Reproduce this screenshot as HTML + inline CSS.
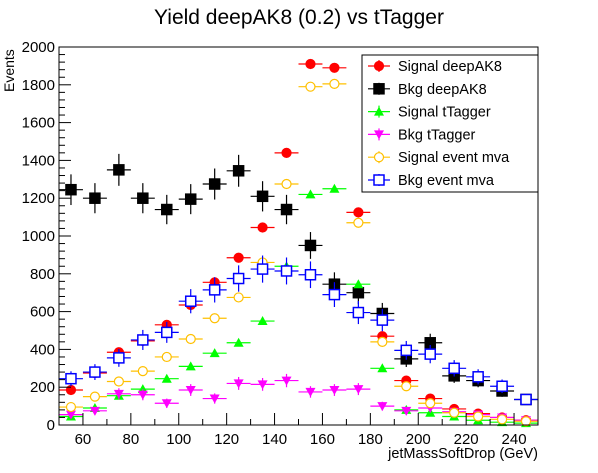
<!DOCTYPE html>
<html><head><meta charset="utf-8"><style>
body{margin:0;background:#fff}
svg{display:block;font-family:"Liberation Sans",sans-serif}
</style></head><body>
<svg id="c" width="598" height="473" xmlns="http://www.w3.org/2000/svg">
<text x="299" y="24" font-size="21" text-anchor="middle">Yield deepAK8 (0.2) vs tTagger</text>
<g id="marks"></g>
<rect x="59" y="47" width="479" height="378" fill="none" stroke="#000" stroke-width="1"/>
<g id="axes"></g>
<text x="538" y="458" font-size="14.5" text-anchor="end">jetMassSoftDrop (GeV)</text>
<text transform="translate(14,92) rotate(-90)" font-size="14" text-anchor="start">Events</text>
<g id="legend"></g>
</svg>
<script>
const binCenters=[55,65,75,85,95,105,115,125,135,145,155,165,175,185,195,205,215,225,235,245];
const sigDeep=[185,275,385,445,530,635,755,885,1045,1440,1910,1890,1125,470,235,140,85,60,40,25];
const bkgDeep=[1245,1200,1350,1200,1140,1195,1275,1345,1210,1140,950,745,700,590,350,435,260,235,180,135];
const sigTT=[45,90,155,190,245,310,380,435,550,840,1220,1250,745,300,80,65,45,25,15,10];
const bkgTT=[55,75,165,160,115,185,140,220,215,235,175,185,190,100,75,90,70,55,40,25];
const sigMva=[95,150,230,285,360,455,565,675,860,1275,1790,1805,1070,440,205,115,65,45,30,20];
const bkgMva=[245,280,355,450,490,655,715,775,825,815,795,690,595,555,395,375,300,255,205,135];
const xTicks=[60,80,100,120,140,160,180,200,220,240];
const yTicks=[0,200,400,600,800,1000,1200,1400,1600,1800,2000];
const NS="http://www.w3.org/2000/svg";
const X=v=>59+(v-50)*479/200;
const Y=v=>425-v*378/2000;
function el(t,a,p){const e=document.createElementNS(NS,t);for(const k in a)e.setAttribute(k,a[k]);p.appendChild(e);return e;}
const axes=document.getElementById('axes');
for(let v=50;v<=250;v+=2){const big=v%20===0,mid=v%10===0;if(!mid&&v%2)continue;
 const l=big?12:(mid?6:0);if(!l)continue;
 const t=el('line',{x1:X(v),x2:X(v),y1:425,y2:425-l,stroke:'#000'},axes);
 }
xTicks.forEach(v=>{const t=el('text',{x:X(v),y:444,'font-size':15,'text-anchor':'middle'},axes);t.textContent=v;
 });
for(let v=0;v<=2000;v+=40){const l=v%200===0?12:6;
 const t=el('line',{x1:59,x2:59+l,y1:Y(v),y2:Y(v),stroke:'#000'},axes);
 }
yTicks.forEach(v=>{const t=el('text',{x:55,y:Y(v)+5,'font-size':15,'text-anchor':'end'},axes);t.textContent=v;
 });
const series=[
 {name:'signal-deepak8',data:sigDeep,col:'#ff0000',m:'circle',fill:true,ef:0.4,label:'Signal deepAK8'},
 {name:'bkg-deepak8',data:bkgDeep,col:'#000000',m:'square',fill:true,ef:2.3,label:'Bkg deepAK8'},
 {name:'signal-ttagger',data:sigTT,col:'#00ff00',m:'tri',fill:true,ef:0.5,label:'Signal tTagger'},
 {name:'bkg-ttagger',data:bkgTT,col:'#ff00ff',m:'tridown',fill:true,ef:2.3,label:'Bkg tTagger'},
 {name:'signal-event-mva',data:sigMva,col:'#ffc000',m:'circle',fill:false,ef:0.4,label:'Signal event mva'},
 {name:'bkg-event-mva',data:bkgMva,col:'#0000ff',m:'square',fill:false,ef:2.5,label:'Bkg event mva'}];
function marker(g,s,cx,cy){let e;
 const f=s.fill?s.col:'#fff';
 if(s.m==='circle')e=el('circle',{cx,cy,r:4.5,fill:f,stroke:s.col,'stroke-width':1.2},g);
 else if(s.m==='square')e=el('rect',{x:cx-5,y:cy-5,width:10,height:10,fill:f,stroke:s.col,'stroke-width':1.5},g);
 else if(s.m==='tri')e=el('polygon',{points:`${cx},${cy-5} ${cx-5},${cy+4} ${cx+5},${cy+4}`,fill:f},g);
 else e=el('polygon',{points:`${cx},${cy+5} ${cx-5},${cy-4} ${cx+5},${cy-4}`,fill:f},g);
 return e;}
const marks=document.getElementById('marks');
series.forEach(s=>{const g=el('g',{},marks);
 
 s.data.forEach((v,i)=>{const c=binCenters[i],err=s.ef*Math.sqrt(v);
  el('line',{x1:X(c-5),x2:X(c+5),y1:Y(v),y2:Y(v),stroke:s.col,'stroke-width':1.2},g);
  el('line',{x1:X(c),x2:X(c),y1:Y(v+err),y2:Y(Math.max(0,v-err)),stroke:s.col,'stroke-width':1.2},g);
  const p=marker(g,s,X(c),Y(v));
  
  });});
const lg=document.getElementById('legend');
el('rect',{x:362,y:55,width:176,height:137,fill:'#fff',stroke:'#000'},lg);
series.forEach((s,i)=>{const y=66+i*22.8;const g=el('g',{},lg);
 
 el('line',{x1:368,x2:390,y1:y,y2:y,stroke:s.col,'stroke-width':1.2},g);
 el('line',{x1:379,x2:379,y1:y-6,y2:y+6,stroke:s.col,'stroke-width':1.2},g);
 marker(g,s,379,y);
 const t=el('text',{x:398,y:y+5,'font-size':14.5},g);t.textContent=s.label;});
</script>
</body></html>
